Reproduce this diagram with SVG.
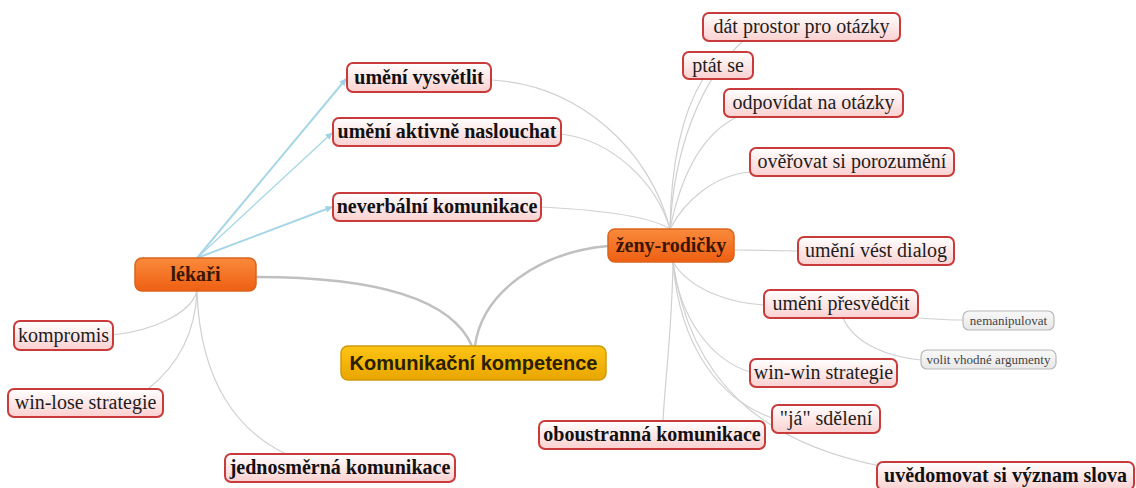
<svg xmlns="http://www.w3.org/2000/svg" width="1136" height="488" viewBox="0 0 1136 488">
<defs>
<linearGradient id="gPink" x1="0" y1="0" x2="0" y2="1">
<stop offset="0" stop-color="#ffffff"/>
<stop offset="1" stop-color="#fbd0d0"/>
</linearGradient>
<linearGradient id="gOrange" x1="0" y1="0" x2="0" y2="1">
<stop offset="0" stop-color="#fa8a3c"/>
<stop offset="1" stop-color="#ee5f12"/>
</linearGradient>
<linearGradient id="gYellow" x1="0" y1="0" x2="0" y2="1">
<stop offset="0" stop-color="#fcc414"/>
<stop offset="1" stop-color="#e9a600"/>
</linearGradient>
<linearGradient id="gGray" x1="0" y1="0" x2="0" y2="1">
<stop offset="0" stop-color="#f8f8f8"/>
<stop offset="1" stop-color="#e8e8e8"/>
</linearGradient>
<marker id="arrB" viewBox="0 0 10 10" refX="9" refY="5" markerWidth="8" markerHeight="7" orient="auto" markerUnits="userSpaceOnUse">
<path d="M0,0 L10,5 L0,10 z" fill="#9fd3e3"/>
</marker>
</defs>
<style>
.n rect{fill:url(#gPink);stroke:#c93a3a;stroke-width:2}
.o rect{fill:url(#gOrange);stroke:#d9631c;stroke-width:1.5}
.y rect{fill:url(#gYellow);stroke:#cf9a0a;stroke-width:1.5}
.g rect{fill:url(#gGray);stroke:#b8b8b8;stroke-width:1.2}
text{font-family:"Liberation Serif","Times New Roman",serif;font-size:20px;fill:#1e1e1e;text-anchor:middle}
.b text{font-weight:bold;fill:#111}
.o text{font-weight:bold;fill:#3a1600}
.y text{font-family:"Liberation Sans",Arial,sans-serif;font-weight:bold;fill:#2a2000}
.g text{font-size:13px;fill:#444}
.c path{fill:none;stroke:#d0d0d0;stroke-width:1.2}
.c path.t{stroke:#c0c0c0;stroke-width:2.5}
.c path.bl{stroke:#a6d6e6;stroke-width:2;marker-end:url(#arrB)}
</style>
<rect width="1136" height="488" fill="#ffffff"/>
<g id="connectors" class="c">
<path class="t" d="M256,277 C380,277 452,300 472,346"/>
<path class="t" d="M608,246 C540,252 482,292 475,346"/>
<path class="bl" d="M197,258 L346,79"/>
<path class="bl" style="stroke-width:1.3" d="M197,258 L332,133"/>
<path class="bl" d="M197,258 L332,207"/>
<path d="M197,291 C190,315 150,331 113,335"/>
<path d="M197,291 C195,340 172,370 148,389"/>
<path d="M197,291 C200,385 240,432 286,454"/>
<path d="M491,80 C580,85 650,150 670,229"/>
<path d="M561,134 C612,140 656,182 670,229"/>
<path d="M541,207 C600,210 650,216 670,229"/>
<path d="M670,229 C674,150 700,80 743,41"/>
<path d="M670,229 C671,160 684,110 703,79"/>
<path d="M670,229 C680,180 700,135 737,117"/>
<path d="M670,229 C685,200 715,175 750,172"/>
<path d="M734,250 L798,251"/>
<path d="M673,262 C690,290 730,303 764,305"/>
<path d="M673,262 C680,320 712,360 750,372"/>
<path d="M673,262 C680,350 722,400 772,418"/>
<path d="M673,262 C690,380 760,442 880,466"/>
<path d="M673,262 C672,330 665,380 663,421"/>
<path d="M917,318 C935,319 945,320 963,320"/>
<path d="M843,318 C855,345 890,357 921,360"/>
</g>
<g id="n-dat" class="n"><rect x="703" y="13" width="197" height="28" rx="6"/><text x="801.5" y="33">dát prostor pro otázky</text></g>
<g id="n-ptat" class="n"><rect x="683" y="52" width="70" height="27" rx="6"/><text x="718" y="71.5">ptát se</text></g>
<g id="n-odpov" class="n"><rect x="724" y="89" width="179" height="28" rx="6"/><text x="813.5" y="109">odpovídat na otázky</text></g>
<g id="n-overovat" class="n"><rect x="750" y="148" width="204" height="28" rx="6"/><text x="852" y="168">ověřovat si porozumění</text></g>
<g id="n-dialog" class="n"><rect x="798" y="237" width="156" height="28" rx="6"/><text x="876" y="257">umění vést dialog</text></g>
<g id="n-presvedcit" class="n"><rect x="764" y="290" width="154" height="28" rx="6"/><text x="841" y="310">umění přesvědčit</text></g>
<g id="n-nemanip" class="g"><rect x="963" y="311" width="91" height="19" rx="6"/><text x="1008.5" y="325">nemanipulovat</text></g>
<g id="n-volit" class="g"><rect x="921" y="350" width="135" height="19" rx="6"/><text x="988.5" y="364">volit vhodné argumenty</text></g>
<g id="n-winwin" class="n"><rect x="750" y="359" width="147" height="28" rx="6"/><text x="823.5" y="379">win-win strategie</text></g>
<g id="n-ja" class="n"><rect x="772" y="405" width="108" height="28" rx="6"/><text x="826" y="425">"já" sdělení</text></g>
<g id="n-uvedomovat" class="n b"><rect x="877" y="462" width="257" height="28" rx="6"/><text x="1005.5" y="482">uvědomovat si význam slova</text></g>
<g id="n-oboustranna" class="n b"><rect x="539" y="421" width="226" height="28" rx="6"/><text x="652" y="441">oboustranná komunikace</text></g>
<g id="n-zeny" class="o"><rect x="608" y="229" width="126" height="33" rx="7"/><text x="671" y="252">ženy-rodičky</text></g>
<g id="n-vysvetlit" class="n b"><rect x="347" y="63" width="144" height="29" rx="6"/><text x="419" y="83.5">umění vysvětlit</text></g>
<g id="n-aktivne" class="n b"><rect x="333" y="118" width="228" height="28" rx="6"/><text x="447" y="138">umění aktivně naslouchat</text></g>
<g id="n-neverbalni" class="n b"><rect x="333" y="193" width="208" height="28" rx="6"/><text x="437" y="213">neverbální komunikace</text></g>
<g id="n-lekari" class="o"><rect x="135" y="258" width="121" height="33" rx="7"/><text x="195.5" y="281">lékaři</text></g>
<g id="n-komunikacni" class="y"><rect x="341" y="346" width="265" height="34" rx="7"/><text x="473.5" y="370">Komunikační kompetence</text></g>
<g id="n-kompromis" class="n"><rect x="14" y="321" width="99" height="29" rx="6"/><text x="63.5" y="341.5">kompromis</text></g>
<g id="n-winlose" class="n"><rect x="8" y="389" width="155" height="28" rx="6"/><text x="85.5" y="409">win-lose strategie</text></g>
<g id="n-jednosmerna" class="n b"><rect x="225" y="454" width="230" height="28" rx="6"/><text x="340" y="474">jednosměrná komunikace</text></g>
</svg>
